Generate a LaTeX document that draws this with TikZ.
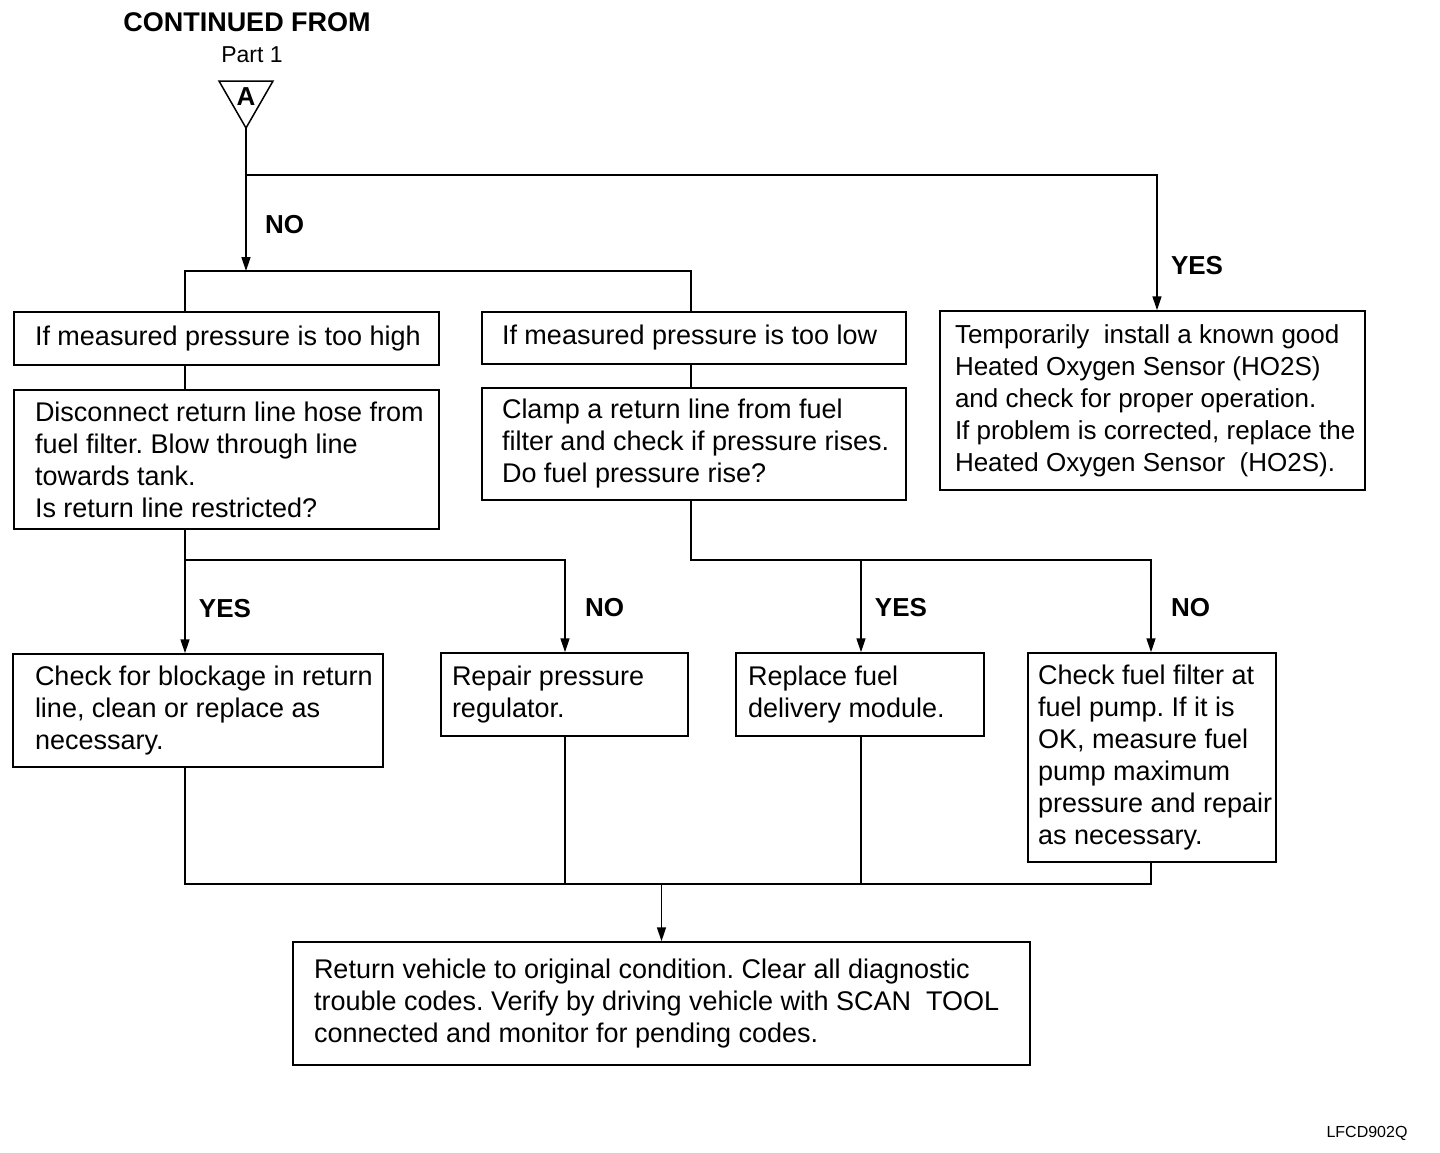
\documentclass[tikz,border=0pt]{standalone}
\usepackage{fontspec}
\setmainfont{Liberation Sans}
\usetikzlibrary{arrows.meta}

\begin{document}
\frenchspacing
\begin{tikzpicture}[x=1pt,y=-1pt,line width=1.5pt,
        every node/.style={font=\fontsize{27}{32}\selectfont},
        box/.style={draw,inner sep=0pt},
        txt/.style={anchor=west,align=left,inner sep=0pt},
        lbl/.style={font=\fontsize{26}{32}\selectfont\bfseries},
        pfeil/.style={-{Triangle[length=14pt,width=9pt]}}]
        \useasboundingbox (0,0) rectangle (1440,1152);
        % Kopf
        \node[font=\fontsize{27}{32}\selectfont\bfseries] (cont) at (247,22) {CONTINUED FROM};
        \node[font=\fontsize{23}{26}\selectfont] (part) at (252,55) {Part 1};
        \draw (219,81) -- (273,81) -- (246,128) -- cycle;
        \node[lbl] (A) at (246,97) {A};
        \coordinate (apex) at (246,128);
        % Spalten und Zeilen der Leitungen
        \coordinate (colA) at (185,0);
        \coordinate (colB) at (691,0);
        \coordinate (colC) at (565,0);
        \coordinate (colD) at (861,0);
        \coordinate (colE) at (1151,0);
        \coordinate (colY) at (1157,0);
        \coordinate (rowYes) at (0,175);
        \coordinate (rowNo) at (0,271);
        \coordinate (rowL) at (0,560);
        \coordinate (rowEnd) at (0,884);
        % Kaesten
        \node[box,minimum width=425pt,minimum height=53pt] (hi) at (226.5,338.5) {};
        \node[box,minimum width=424pt,minimum height=52pt] (lo) at (694,338) {};
        \node[box,minimum width=425pt,minimum height=179pt] (hos) at (1152.5,400.5) {};
        \node[box,minimum width=425pt,minimum height=139pt] (dis) at (226.5,459.5) {};
        \node[box,minimum width=424pt,minimum height=112pt] (clamp) at (694,444) {};
        \node[box,minimum width=370pt,minimum height=113pt] (chk) at (198,710.5) {};
        \node[box,minimum width=247pt,minimum height=83pt] (rep) at (564.5,694.5) {};
        \node[box,minimum width=248pt,minimum height=83pt] (fdm) at (860,694.5) {};
        \node[box,minimum width=248pt,minimum height=209pt] (cff) at (1152,757.5) {};
        \node[box,minimum width=737pt,minimum height=123pt] (fin) at (661.5,1003.5) {};
        % Texte
        \node[txt] (hi-t) at ([xshift=21pt]hi.west) {If measured pressure is too high};
        \node[txt] (lo-t) at ([xshift=20pt]lo.west) {If measured pressure is too low};
        \node[txt,font=\fontsize{26}{32}\selectfont] (hos-t) at ([xshift=15pt]hos.west) {Temporarily\ \ install a known good\\
            Heated Oxygen Sensor (HO2S)\\and check for proper operation.\\
            If problem is corrected, replace the\\Heated Oxygen Sensor\ \ (HO2S).};
        \node[txt] (dis-t) at ([xshift=21pt]dis.west) {Disconnect return line hose from\\
            fuel filter. Blow through line\\towards tank.\\Is return line restricted?};
        \node[txt] (clamp-t) at ([xshift=20pt]clamp.west) {Clamp a return line from fuel\\
            filter and check if pressure rises.\\Do fuel pressure rise?};
        \node[txt] (chk-t) at ([xshift=22pt]chk.west) {Check for blockage in return\\
            line, clean or replace as\\necessary.};
        \node[txt] (rep-t) at ([xshift=11pt]rep.west) {Repair pressure\\regulator.};
        \node[txt] (fdm-t) at ([xshift=12pt]fdm.west) {Replace fuel\\delivery module.};
        \node[txt] (cff-t) at ([xshift=10pt]cff.west) {Check fuel filter at\\fuel pump. If it is\\
            OK, measure fuel\\pump maximum\\pressure and repair\\as necessary.};
        \node[txt] (fin-t) at ([xshift=21pt]fin.west) {Return vehicle to original condition. Clear all diagnostic\\
            trouble codes. Verify by driving vehicle with SCAN\ \ TOOL\\
            connected and monitor for pending codes.};
        % Leitungen oben
        \draw[pfeil] (apex) -- (apex |- rowNo);
        \draw (hi.north -| colA) |- (rowNo -| colB) -- (lo.north -| colB);
        \draw[pfeil] (apex |- rowYes) -| (hos.north -| colY);
        \draw (hi.south -| colA) -- (dis.north -| colA);
        \draw (lo.south -| colB) -- (clamp.north -| colB);
        % Leitungen Mitte
        \draw[pfeil] (dis.south -| colA) -- (chk.north -| colA);
        \draw[pfeil] (colA |- rowL) -| (rep.north -| colC);
        \draw[pfeil] (clamp.south -| colB) |- (colE |- rowL) -- (cff.north -| colE);
        \draw[pfeil] (colD |- rowL) -- (fdm.north -| colD);
        % Leitungen unten
        \draw (chk.south -| colA) |- (colE |- rowEnd) -- (cff.south -| colE);
        \draw (rep.south -| colC) -- (colC |- rowEnd);
        \draw (fdm.south -| colD) -- (colD |- rowEnd);
        \draw[pfeil] (fin.north |- rowEnd) -- (fin.north);
        % Beschriftungen YES und NO
        \node[lbl] (no1) at (284.5,225) {NO};
        \node[lbl] (yes1) at (1197,265.5) {YES};
        \node[lbl] (yes2) at (225,609) {YES};
        \node[lbl] (no2) at (604.5,608) {NO};
        \node[lbl] (yes3) at (901,608) {YES};
        \node[lbl] (no3) at (1190.5,608) {NO};
        % Kennung
        \node[font=\fontsize{16}{18}\selectfont] (code) at (1367,1133) {LFCD902Q};
    \end{tikzpicture}
\end{document}
